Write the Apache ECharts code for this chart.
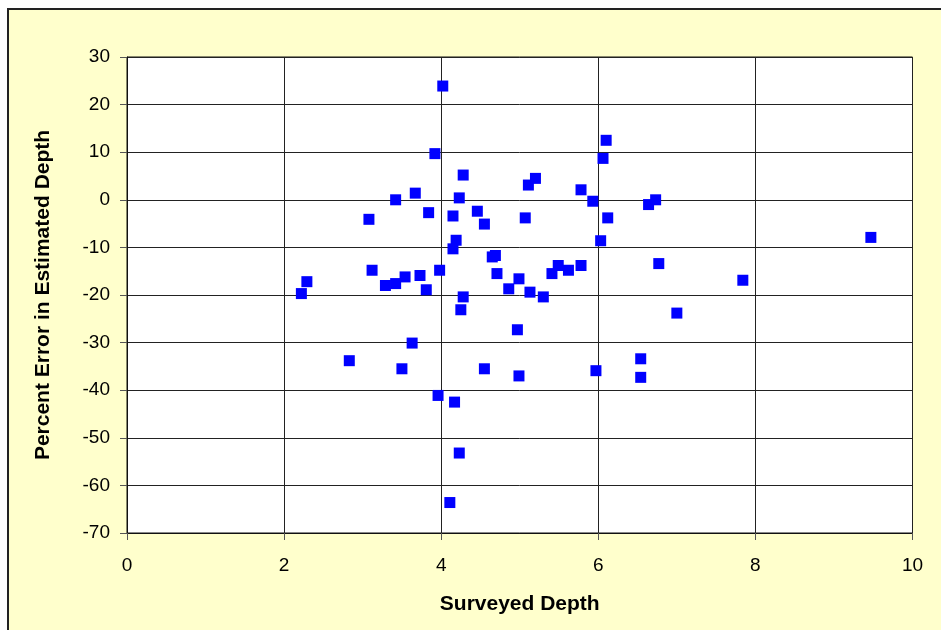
<!DOCTYPE html>
<html>
<head>
<meta charset="utf-8">
<script src="https://cdn.jsdelivr.net/npm/echarts@6/dist/echarts.min.js"></script>
<style>
  html, body { margin: 0; padding: 0; background: #ffffff; }
  #frame {
    position: absolute; left: 7px; top: 8px; width: 1000px; height: 700px;
    background: #ffffcc; border-left: 2px solid #222; border-top: 2px solid #222;
  }
  #chart { position: absolute; left: 0; top: 0; width: 941px; height: 630px; }
</style>
</head>
<body>
<div id="frame"></div>
<div id="chart"></div>
<script>
// Surveyed depth (x) and percent error in estimated depth (y)
const surveyedDepth = [
  4.02, 3.92, 4.28, 3.67, 3.42, 4.23, 3.84, 3.08, 4.15, 4.46,
  4.55, 4.19, 4.15, 4.65, 4.69, 4.71, 3.12, 2.29, 2.22, 3.29,
  3.42, 3.54, 3.73, 3.98, 3.81, 4.28, 4.25, 3.63, 2.83, 3.50,
  4.55, 3.96, 4.17, 4.23, 4.11, 6.10, 6.06, 5.20, 5.11, 5.78,
  5.93, 6.73, 6.64, 5.07, 6.12, 6.03, 4.99, 4.86, 5.13, 5.30,
  5.49, 5.41, 5.62, 5.78, 6.77, 7.00, 4.97, 6.54, 4.99, 5.97,
  6.54, 9.47, 7.84
];
const percentError = [
  23.9, 9.7, 5.2, 1.4, 0.0, 0.4, -2.7, -4.1, -3.4, -2.4,
  -5.1, -8.5, -10.3, -12.0, -11.7, -15.5, -14.8, -17.2, -19.7, -18.0,
  -17.6, -16.2, -15.9, -14.8, -18.9, -20.4, -23.1, -30.1, -33.8, -35.5,
  -35.5, -41.1, -42.5, -53.2, -63.6, 12.5, 8.7, 4.5, 3.1, 2.1,
  -0.3, 0.0, -1.0, -3.8, -3.8, -8.6, -16.6, -18.7, -19.4, -20.4,
  -13.8, -15.5, -14.8, -13.8, -13.4, -23.8, -27.3, -33.4, -37.0, -35.9,
  -37.3, -7.9, -16.9
];

const points = surveyedDepth.map((x, i) => [x, percentError[i]]);

const chart = echarts.init(document.getElementById('chart'));
chart.setOption({
  animation: false,
  backgroundColor: 'transparent',
  textStyle: { fontFamily: 'Liberation Sans, Arial, sans-serif' },
  grid: {
    left: 127, right: 28.5, top: 57, bottom: 97,
    show: true, backgroundColor: '#ffffff',
    borderColor: '#111', borderWidth: 1
  },
  xAxis: {
    type: 'value',
    min: 0, max: 10, interval: 2,
    name: 'Surveyed Depth',
    nameLocation: 'middle',
    nameGap: 61,
    nameTextStyle: { fontSize: 21, fontWeight: 'bold', color: '#000' },
    axisLine: { show: true, onZero: false, lineStyle: { color: '#111', width: 1 } },
    axisTick: { show: true, inside: false, length: 7, lineStyle: { color: '#555' } },
    axisLabel: { fontSize: 19, color: '#000', margin: 23 },
    splitLine: { show: true, lineStyle: { color: '#222', width: 1 } }
  },
  yAxis: {
    type: 'value',
    min: -70, max: 30, interval: 10,
    name: 'Percent Error in Estimated Depth',
    nameLocation: 'middle',
    nameGap: 73,
    nameTextStyle: { fontSize: 21, fontWeight: 'bold', color: '#000' },
    axisLine: { show: true, onZero: false, lineStyle: { color: '#111', width: 1 } },
    axisTick: { show: true, inside: false, length: 7, lineStyle: { color: '#555' } },
    axisLabel: { fontSize: 19, color: '#000', margin: 17 },
    splitLine: { show: true, lineStyle: { color: '#222', width: 1 } }
  },
  series: [{
    type: 'scatter',
    data: points,
    symbol: 'rect',
    symbolSize: 11,
    itemStyle: { color: '#0000ff', opacity: 1 }
  }]
});
</script>
</body>
</html>
